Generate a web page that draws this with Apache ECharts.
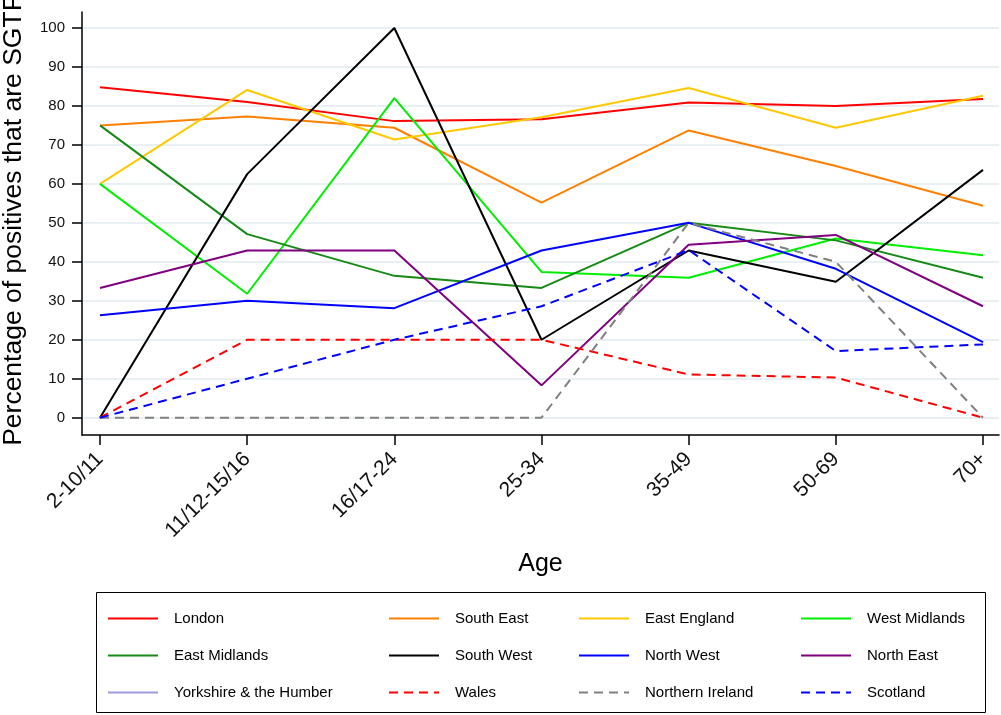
<!DOCTYPE html>
<html>
<head>
<meta charset="utf-8">
<script src="https://cdn.jsdelivr.net/npm/echarts@6/dist/echarts.min.js"></script>
<style>
  html, body { margin: 0; padding: 0; background: #fff; }
  #chart { width: 1001px; height: 715px; }
</style>
</head>
<body>
<div id="chart"></div>
<script>
// age groups on the x axis
const ageGroups = ['2-10/11', '11/12-15/16', '16/17-24', '25-34', '35-49', '50-69', '70+']
const yTicks = [0, 10, 20, 30, 40, 50, 60, 70, 80, 90, 100]

// % of positives that are SGTF, per region
const london = [84.8, 81.0, 76.1, 76.6, 80.9, 80.0, 81.8]
const southEast = [75.0, 77.3, 74.4, 55.2, 73.7, 64.6, 54.4]
const eastEngland = [60.0, 84.1, 71.4, 77.1, 84.6, 74.4, 82.6]
const westMidlands = [60.0, 31.8, 82.0, 37.4, 35.9, 46.0, 41.7]
const eastMidlands = [75.0, 47.1, 36.4, 33.3, 50.0, 45.5, 35.9]
const southWest = [0, 62.5, 100, 20.0, 42.9, 34.9, 63.6]
const northWest = [26.3, 30.0, 28.1, 42.9, 50.0, 38.2, 19.4]
const northEast = [33.3, 42.9, 42.9, 8.3, 44.4, 46.9, 28.6]
const yorkshire = [null, null, null, null, null, null, null]
const wales = [0, 20.0, 20.0, 20.0, 11.1, 10.3, 0]
const northernIreland = [0, 0, 0, 0, 50.0, 40.0, 0]
const scotland = [0, 10.0, 20.0, 28.6, 43.0, 17.1, 18.8]

const FONT = 'Liberation Sans, Arial, sans-serif'
const dash = [9, 6]

function toPoints(vals) {
  return vals.map((v, i) => [i, v])
}

function line(name, vals, color, dashed) {
  return {
    name: name,
    type: 'line',
    data: toPoints(vals),
    symbol: 'none',
    connectNulls: false,
    itemStyle: { color: color },
    lineStyle: { color: color, width: 2, type: dashed ? dash : 'solid' }
  }
}

const series = [
  line('London', london, '#ff0000'),
  line('South East', southEast, '#ff8000'),
  line('East England', eastEngland, '#ffc800'),
  line('West Midlands', westMidlands, '#00ee00'),
  line('East Midlands', eastMidlands, '#168a16'),
  line('South West', southWest, '#000000'),
  line('North West', northWest, '#0000ff'),
  line('North East', northEast, '#800080'),
  line('Yorkshire & the Humber', yorkshire, '#9c9cdc'),
  line('Wales', wales, '#ff0000', true),
  line('Northern Ireland', northernIreland, '#808080', true),
  line('Scotland', scotland, '#0000ff', true)
]

// legend laid out as 4 columns x 3 rows
const legendCols = [
  ['London', 'East Midlands', 'Yorkshire & the Humber'],
  ['South East', 'South West', 'Wales'],
  ['East England', 'North West', 'Northern Ireland'],
  ['West Midlands', 'North East', 'Scotland']
]
const legendLeft = [102, 383, 573, 795]

const legends = legendCols.map((names, i) => ({
  data: names,
  orient: 'vertical',
  left: legendLeft[i],
  top: 606,
  itemWidth: 50,
  itemHeight: 14,
  itemGap: 22,
  selectedMode: false,
  itemStyle: { opacity: 0 },
  textStyle: { fontFamily: FONT, fontSize: 15, color: '#000', lineHeight: 14, padding: [0, 0, 0, 11] }
}))

const chart = echarts.init(document.getElementById('chart'))
chart.setOption({
  animation: false,
  backgroundColor: '#fff',
  grid: { left: 82, right: 2, top: 12, bottom: 280, containLabel: false, outerBoundsMode: 'none' },
  legend: legends,
  graphic: [{
    type: 'rect',
    shape: { x: 96.5, y: 592.5, width: 889, height: 120 },
    style: { fill: 'none', stroke: '#000', lineWidth: 1 }
  }],
  xAxis: {
    type: 'value',
    min: -0.1223,
    max: 6.1087,
    name: 'Age',
    nameLocation: 'middle',
    nameGap: 117,
    nameMoveOverlap: false,
    nameTextStyle: { fontFamily: FONT, fontSize: 25, color: '#000' },
    axisLine: { show: true, onZero: false, lineStyle: { color: '#000', width: 1.5 } },
    axisTick: { show: true, length: 10, customValues: [0, 1, 2, 3, 4, 5, 6], lineStyle: { color: '#000', width: 1.5 } },
    axisLabel: {
      customValues: [0, 1, 2, 3, 4, 5, 6],
      formatter: v => ageGroups[Math.round(v)],
      rotate: 45,
      margin: 21,
      fontFamily: FONT,
      fontSize: 21,
      color: '#111'
    },
    splitLine: { show: false }
  },
  yAxis: {
    type: 'value',
    min: -4.44,
    max: 104.1,
    name: 'Percentage of positives that are SGTF',
    nameLocation: 'middle',
    nameGap: 55,
    nameMoveOverlap: false,
    nameTextStyle: { fontFamily: FONT, fontSize: 26.5, color: '#000', padding: [0, 0, 0, 6] },
    axisLine: { show: true, onZero: false, lineStyle: { color: '#000', width: 1.5 } },
    axisTick: { show: true, length: 10, customValues: yTicks, lineStyle: { color: '#000', width: 1.5 } },
    axisLabel: {
      customValues: yTicks,
      margin: 17,
      fontFamily: FONT,
      fontSize: 15,
      color: '#111'
    },
    splitLine: { show: true, lineStyle: { color: '#e8f0f3', width: 2 } }
  },
  series: series
})
</script>
</body>
</html>
